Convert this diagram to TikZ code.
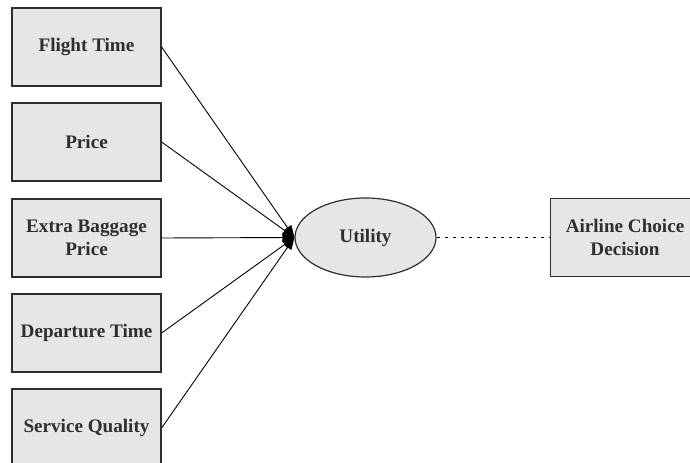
\documentclass[tikz,border=0pt]{standalone}
\usepackage{fontspec}
\setmainfont{Liberation Serif}
\usetikzlibrary{arrows.meta, shapes.geometric}
\definecolor{boxgray}{HTML}{E6E6E6}
\definecolor{inkgray}{HTML}{2E2E2E}
\begin{document}
\begin{tikzpicture}[x=0.5bp, y=-0.5bp,
    factor/.style={draw=inkgray, fill=boxgray, line width=0.6pt, minimum width=74.5bp, minimum height=39bp,
      align=center, font=\fontsize{9.6}{11.5}\selectfont\bfseries, text=inkgray, inner sep=1pt},
    link/.style={draw=black, line width=0.45pt, -{Triangle[length=6bp, width=4.6bp]}}]
      \useasboundingbox (0,0) rectangle (690,463);
      \clip (0,0) rectangle (690,463);
      \node [factor] (flight)    at (86.5,47)  {Flight Time};
      \node [factor] (price)     at (86.5,142) {Price};
      \node [factor] (baggage)   at (86.5,238) {Extra Baggage\\Price};
      \node [factor] (departure) at (86.5,333) {Departure Time};
      \node [factor] (service)   at (86.5,428) {Service Quality};
      \node [factor, ellipse, minimum width=70.5bp, minimum height=39.5bp] (utility) at (365.5,237.5) {Utility};
      \node [factor] (decision)  at (625,237.5) {Airline Choice\\Decision};
      \foreach \f in {flight, price, baggage, departure, service}
        \draw [link] (\f.east) -- (utility.west);
      \draw [line width=0.45pt, dash pattern=on 1.5bp off 2.5bp] (utility.east) -- (decision.west);
    \end{tikzpicture}
\end{document}
